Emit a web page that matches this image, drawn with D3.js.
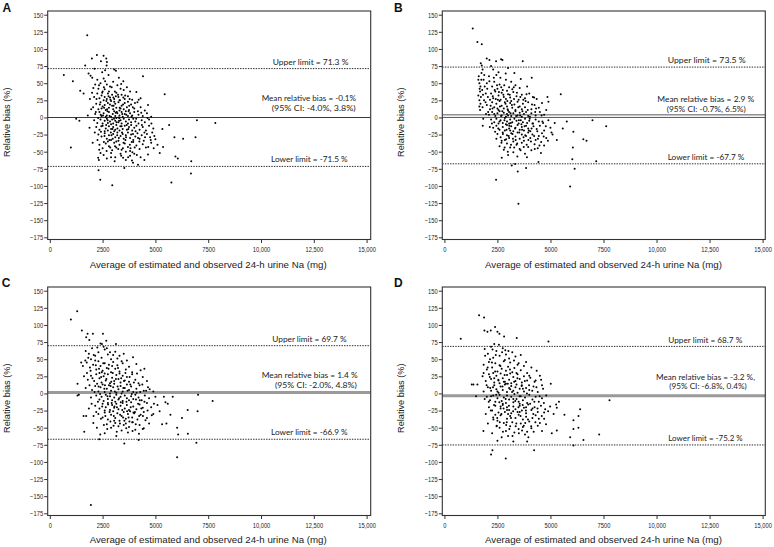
<!DOCTYPE html>
<html><head><meta charset="utf-8">
<script src="https://cdn.jsdelivr.net/npm/d3@7"></script>
<style>body{margin:0;background:#fff}svg{display:block}</style>
</head><body><svg id="c" width="774" height="547"></svg>
<script>
const xTicks=[0,2500,5000,7500,10000,12500,15000];
const xTickLabels=["0","2500","5000","7500","10,000","12,500","15,000"];
const yTicks=[150,125,100,75,50,25,0,-25,-50,-75,-100,-125,-150,-175];
const panelLetters=["A","B","C","D"];
const meanBias=[-0.1,2.9,1.4,-3.2];
const upperLimit=[71.3,73.5,69.7,68.7];
const lowerLimit=[-71.5,-67.7,-66.9,-75.2];
const meanTexts=["Mean relative bias  = -0.1%","Mean relative bias  = 2.9 %","Mean relative bias = 1.4 %","Mean relative bias = -3.2 %,"];
const ciTexts=["(95% CI: -4.0%, 3.8%)","(95% CI: -0.7%,  6.5%)","(95% CI: -2.0%, 4.8%)","(95% CI: -6.8%, 0.4%)"];
const xTitle="Average of estimated and observed 24-h urine Na (mg)";
const yTitle="Relative bias (%)";

const pointsA=[[1772,120],[664,62],[1092,53],[1440,39],[1600,35],[1993,86],[2230,91],[2420,82],[2547,90],[2673,86],[2705,81],[2690,76],[1677,76],[2120,71],[1835,64],[1930,61],[2010,58],[3053,70],[3132,68],[4414,60],[5440,34],[5650,-11],[6968,-4],[7838,-8],[5330,-17],[4950,-27],[5900,-29],[6312,-31],[6900,-29],[997,-44],[2325,-62],[2290,-59],[2310,-77],[2390,-91],[2958,-99],[3528,-74],[3890,-63],[3940,-66],[4176,-69],[4477,-62],[5205,-52],[5363,-43],[5948,-57],[6060,-60],[5758,-95],[6698,-64],[6683,-82],[1250,-2],[1400,-5],
[2250,55],[2400,50],[2550,57],[2700,48],[2850,45],[3000,52],[3200,47],[3350,42],[3500,40],[3650,44],[2300,42],[2600,41],[3800,38],[2150,48],
[2100,30],[2250,35],[2350,28],[2450,32],[2500,38],[2600,30],[2700,27],[2750,35],[2850,29],[2950,33],[3050,27],[3150,36],[3250,30],[3400,33],[3550,27],[3700,31],[3900,26],[4100,37],[4300,28],[2550,25],[2800,38],[3300,25],[1900,27],[2000,36],
[2050,15],[2200,20],[2300,12],[2400,22],[2500,16],[2600,18],[2650,11],[2750,21],[2800,14],[2900,24],[2950,17],[3000,12],[3100,20],[3150,14],[3250,22],[3300,10],[3400,17],[3500,12],[3550,21],[3650,15],[3750,11],[3850,19],[4000,13],[4150,22],[4300,15],[4500,10],[4650,18],[2450,13],[2850,19],[3050,23],[3350,13],[3700,23],
[1800,3],[2150,5],[2350,8],[2450,2],[2550,6],[2700,3],[2800,8],[2900,1],[2980,5],[3050,9],[3100,2],[3200,6],[3300,3],[3400,8],[3450,1],[3550,5],[3600,9],[3700,2],[3800,6],[3900,3],[4000,8],[4200,4],[4400,2],[4600,6],[4800,1],[3250,0],[2650,1],
[2100,-4],[2250,-8],[2400,-3],[2500,-9],[2600,-5],[2700,-2],[2750,-8],[2850,-6],[2950,-3],[3000,-9],[3100,-5],[3150,-1],[3250,-7],[3350,-4],[3400,-9],[3500,-2],[3600,-6],[3700,-9],[3750,-3],[3850,-7],[3950,-2],[4050,-6],[4200,-9],[4350,-4],[4500,-7],[4700,-3],[2900,-10],[3300,-1],
[2200,-14],[2350,-18],[2500,-12],[2650,-16],[2750,-19],[2800,-13],[2900,-17],[3000,-14],[3050,-20],[3150,-11],[3200,-16],[3300,-19],[3400,-13],[3450,-17],[3550,-12],[3650,-18],[3750,-14],[3850,-11],[3900,-19],[4000,-15],[4100,-12],[4250,-18],[4400,-14],[4550,-19],[4700,-12],[4900,-16],[2600,-20],[3100,-18],
[2300,-25],[2450,-28],[2600,-23],[2700,-31],[2800,-26],[2900,-33],[3000,-24],[3100,-29],[3200,-22],[3250,-34],[3350,-27],[3450,-24],[3500,-31],[3600,-26],[3700,-22],[3800,-30],[3850,-25],[3950,-33],[4050,-28],[4150,-23],[4250,-31],[4350,-26],[4450,-34],[4600,-24],[4750,-29],[4850,-22],[5000,-32],[2750,-35],[3150,-35],
[2350,-40],[2500,-45],[2650,-38],[2800,-42],[2950,-48],[3050,-37],[3150,-44],[3300,-40],[3400,-47],[3550,-38],[3700,-43],[3800,-49],[3950,-36],[4100,-41],[4250,-46],[4400,-39],[4550,-44],[4800,-37],[5100,-40],[3600,-50],
[2550,-55],[2700,-60],[2900,-52],[3100,-58],[3350,-53],[3600,-62],[3800,-56],[4000,-53],[4300,-58],[4650,-54],[2400,-52],
[2330,47],[2480,36],[2620,53],[2780,31],[2930,44],[3080,38],[3230,33],[3380,49],[3480,29],[2210,27],[2570,14],[2730,9],[2870,26],[3020,17],[3170,8],[3320,25],[3470,19],[3620,4],[3780,27],[3930,15],[2290,-1],[2440,-13],[2590,-27],[2740,-4],[2890,-22],[3040,-2],[3190,-26],[3340,-13],[3490,-37],[3640,-11],[3790,-40],[3940,-24],[4090,-2],[4240,-35],[2370,19],[2520,3],[2670,-11],[2820,-33],[2970,-17],[3120,7],[3270,-30],[3420,-22],[3570,32],[3720,-17],[3870,1],[4020,-44],[4170,9],[2260,-33],[2410,4],[2560,-36],[2710,12],[2860,-44],[3010,29],[3160,-7],[3310,14],[3460,-45],[3610,-29],[3760,17],[3910,-51],[4060,-20],[4210,26],[4360,-11],[4510,-29],[4660,-43],[4810,-9],[2180,8],[2130,-22],[2060,43],[1960,12],[1880,-15],[2030,-37],[2480,66],[2620,69],[2780,62],[3270,58],[3480,53],[2340,-47],[2690,-49],[3240,-46],[3710,-58],[3070,-64],[3470,-59],[2920,-26],[3090,-42],[2680,24],[2830,2],[2980,-31],[3130,31],[3280,-5],[3430,5],[3580,-33],[3730,9],[3880,-36],[4030,21],[4180,-30],[4330,7],[4480,-22],[4630,-1],[4780,-33],[4920,-45],[2420,-21],[2560,44],[2900,-58],[3380,-56],[3820,-45],[4120,-55]];

const pointsB=[[1336,130],[1556,110],[1760,107],[1713,79],[1760,76],[1996,86],[2122,84],[2436,82],[2672,85],[2735,84],[3694,82],[4118,58],[4857,30],[4905,23],[5486,34],[4229,29],[1807,-12],[1682,11],[1650,16],[5770,-6],[5580,-16],[6080,-21],[6981,-4],[7627,-13],[6550,-32],[6700,-34],[6056,-44],[6030,-61],[7156,-64],[6140,-75],[2436,-91],[3490,-126],[3458,-79],[3851,-74],[3333,-68],[3175,-70],[2704,-59],[4433,-65],[5926,-101],
[1600,55],[1650,50],[1700,45],[1620,60],[1750,65],[1800,70],[1680,38],[1720,30],[1650,25],[1780,40],[1850,55],[1900,45],[1950,35],[1700,20],[1800,15],[1870,25],[1600,32],[2300,70],[2550,66],[2200,75],
[2100,60],[2250,45],[2350,52],[2500,42],[2600,48],[2750,40],[2900,55],[3050,44],[3200,41],[3350,47],[3550,43],[2450,62],[2000,50],[3900,45],
[2050,30],[2200,35],[2300,28],[2400,38],[2550,32],[2650,26],[2700,36],[2800,30],[2900,27],[3000,34],[3100,29],[3250,37],[3400,31],[3500,26],[3650,33],[3800,28],[4000,35],[4350,27],[2150,26],[2950,39],
[2000,18],[2150,12],[2250,22],[2350,15],[2450,20],[2550,11],[2600,24],[2700,17],[2800,13],[2850,22],[2950,16],[3000,10],[3100,21],[3200,14],[3300,19],[3350,11],[3450,23],[3550,16],[3650,12],[3700,20],[3800,15],[3950,22],[4100,12],[4250,18],[4450,14],[4600,21],[4800,11],[2500,13],[3150,24],
[2100,4],[2250,8],[2400,2],[2500,6],[2600,9],[2700,3],[2800,7],[2900,1],[2950,5],[3050,8],[3150,2],[3250,6],[3350,9],[3450,3],[3550,7],[3650,1],[3750,5],[3850,8],[3950,2],[4100,6],[4300,3],[4500,8],[4700,4],[2350,5],[3000,3],
[2200,-3],[2350,-7],[2450,-2],[2550,-9],[2650,-4],[2750,-8],[2850,-1],[2950,-6],[3050,-9],[3100,-3],[3200,-7],[3300,-2],[3400,-5],[3500,-9],[3600,-4],[3700,-7],[3800,-2],[3900,-8],[4000,-5],[4150,-9],[4300,-3],[4450,-6],[4650,-8],[4900,-4],[2900,-10],
[2300,-15],[2450,-12],[2600,-18],[2750,-14],[2850,-19],[2950,-11],[3050,-16],[3150,-13],[3250,-20],[3350,-15],[3450,-11],[3550,-18],[3650,-14],[3750,-19],[3850,-12],[3950,-16],[4050,-20],[4200,-13],[4350,-17],[4500,-12],[4700,-19],[5000,-15],[3100,-19],
[2500,-24],[2650,-29],[2750,-22],[2850,-33],[2950,-26],[3050,-30],[3150,-23],[3250,-35],[3350,-28],[3450,-22],[3550,-31],[3650,-25],[3750,-34],[3850,-27],[3950,-22],[4050,-30],[4150,-25],[4300,-33],[4450,-27],[4600,-23],[4800,-30],[5100,-25],[5300,-33],[2700,-34],
[2600,-42],[2800,-47],[2950,-38],[3100,-44],[3250,-51],[3400,-40],[3550,-46],[3650,-37],[3800,-53],[3950,-43],[4100,-48],[4250,-39],[4400,-45],[4550,-52],[4700,-41],[3000,-55],
[1660,42],[1740,55],[1820,33],[1880,62],[1940,22],[2020,42],[2120,53],[2180,17],[2280,31],[2330,58],[2420,27],[2480,47],[2570,37],[2620,16],[2680,44],[2730,9],[2780,33],[2830,-4],[2880,20],[2930,-18],[2980,12],[3030,-27],[3080,33],[3130,-8],[3180,18],[3230,-31],[3280,27],[3330,-16],[3380,2],[3430,-38],[3480,15],[3530,-22],[3580,30],[3630,-10],[3680,9],[3730,-29],[3780,-13],[3830,24],[3880,-40],[3930,11],[3980,-19],[4030,1],[4080,-35],[4130,19],[4180,-9],[4230,-27],[4280,8],[4380,-20],[4480,-41],[4580,3],[4680,-28],[4780,-13],[4880,-34],[2240,-9],[2390,-21],[2540,-16],[2690,-37],[2840,-44],[2990,-50],[3140,-40],[3290,-44],[3440,-57],[3590,-48],[3740,-43],[3890,-58],[2270,13],[2370,40],[2520,26],[2670,2],[2820,47],[2970,24],[3120,6],[3270,44],[3420,36],[3570,3],[3720,26],[3870,34],[4020,-2],[4170,30],[4320,13],[4620,-6],[5200,-8],[5050,-22],[2140,-14],[2060,8],[1960,5],[1830,-2],[2890,64],[3000,72],[2640,58],[3150,52],[3300,65],[3600,56],[2760,-24],[2910,-32],[3060,-12],[3210,-24],[3360,-33],[3510,-4],[3660,-18],[3810,-26],[3960,-33],[4110,-16],[4260,-46],[4410,-31],[4560,-36],[2450,-31],[2600,-6]];

const pointsC=[[997,108],[1297,120],[1519,92],[1724,82],[1788,87],[2041,87],[2515,87],[1870,78],[1313,14],[1376,-2],[1313,-3],[1487,45],[1566,40],[2468,72],[2673,77],[3132,72],[3939,53],[4477,36],[5474,-13],[5585,-15],[5822,-5],[7020,-2],[6530,-24],[1598,-33],[1724,-33],[2072,-33],[1630,-56],[2390,-60],[2341,-67],[1946,-163],[3528,-73],[4208,-68],[5315,-45],[5522,-44],[5711,-31],[6260,-36],[6028,-50],[6076,-60],[6028,-93],[6537,-59],[6940,-72],[7710,-11],[6997,-26],
[1700,62],[1850,58],[2000,66],[2150,55],[2300,60],[2450,52],[2600,64],[2750,57],[2900,50],[3100,61],[3300,55],[1950,50],[2550,68],[3500,58],
[1750,45],[1900,38],[2050,42],[2200,35],[2300,47],[2400,40],[2500,33],[2600,44],[2700,37],[2800,42],[2900,31],[3000,46],[3100,36],[3200,41],[3300,32],[3450,44],[3600,35],[3750,39],[3900,31],[4100,43],[4300,34],[2350,30],[2950,40],[2150,48],
[1800,20],[1950,26],[2100,18],[2200,28],[2350,22],[2450,16],[2550,25],[2650,19],[2750,28],[2850,15],[2950,23],[3050,18],[3150,27],[3250,21],[3350,16],[3450,26],[3550,19],[3650,24],[3750,17],[3900,28],[4050,20],[4200,15],[4400,24],[4600,18],[2600,29],[3300,29],
[1700,8],[2000,5],[2150,11],[2300,3],[2400,9],[2500,13],[2600,2],[2700,7],[2800,12],[2900,4],[3000,9],[3050,14],[3150,1],[3250,6],[3350,11],[3450,3],[3550,8],[3650,13],[3750,5],[3850,10],[3950,2],[4100,7],[4250,12],[4450,4],[4650,9],[4900,3],[2850,0],[3400,0],
[1950,-6],[2200,-3],[2350,-9],[2450,-5],[2550,-11],[2650,-2],[2750,-8],[2850,-4],[2950,-10],[3050,-6],[3150,-2],[3250,-9],[3350,-5],[3450,-11],[3550,-3],[3650,-7],[3750,-10],[3850,-4],[3950,-8],[4050,-2],[4200,-6],[4350,-10],[4500,-3],[4700,-7],[5000,-5],[3100,-12],
[2150,-18],[2350,-22],[2500,-15],[2650,-20],[2750,-14],[2850,-24],[2950,-17],[3050,-21],[3150,-15],[3250,-23],[3350,-18],[3450,-14],[3550,-22],[3650,-17],[3750,-24],[3850,-13],[3950,-19],[4100,-23],[4250,-16],[4400,-21],[4600,-14],[4800,-20],[5100,-17],[2600,-25],
[2300,-30],[2500,-35],[2600,-28],[2750,-38],[2900,-31],[3000,-26],[3100,-36],[3200,-29],[3300,-40],[3400,-33],[3500,-27],[3600,-37],[3700,-30],[3800,-26],[3900,-35],[4000,-29],[4150,-38],[4300,-31],[4450,-27],[4600,-36],[4900,-30],[3050,-40],
[2700,-45],[2900,-50],[3100,-43],[3250,-48],[3400,-54],[3600,-44],[3750,-49],[3900,-42],[4050,-53],[4250,-46],[4450,-51],[4700,-44],[3500,-46],
[1620,25],[1680,48],[1760,30],[1820,52],[1880,12],[1930,33],[2020,22],[2080,56],[2120,2],[2180,41],[2240,14],[2280,-12],[2330,36],[2380,-1],[2430,24],[2480,-19],[2530,44],[2580,7],[2630,-33],[2680,21],[2730,-4],[2780,36],[2830,-27],[2880,11],[2930,-14],[2980,30],[3030,-33],[3080,3],[3130,21],[3180,-20],[3230,37],[3280,-7],[3330,-31],[3380,22],[3430,-24],[3480,8],[3530,-40],[3580,30],[3630,-12],[3680,4],[3730,-35],[3780,24],[3830,-20],[3880,-1],[3930,-42],[3980,16],[4030,-27],[4080,-9],[4130,29],[4180,-15],[4230,-33],[4280,2],[4330,-22],[4380,13],[4480,-12],[4530,-39],[4630,-25],[4730,6],[4830,-32],[4930,-15],[2200,-27],[2420,-37],[2560,-46],[2720,-52],[2870,-41],[3020,-47],[3170,-56],[3320,-44],[3470,-35],[3620,-51],[3770,-41],[3920,-55],[4070,-45],[4220,-59],[2250,67],[2400,73],[2700,66],[2850,60],[3000,56],[3200,51],[3400,47],[3650,48],[2310,10],[2460,31],[2610,12],[2760,-16],[2910,17],[3060,-19],[3210,10],[3360,-13],[3510,18],[3660,-26],[3810,13],[3960,-28],[4110,1],[4260,-10],[4410,-33],[4560,4],[1980,-15],[2060,-43],[2230,-50],[1850,-22],[2600,-58],[3150,-62],[3700,-57],[4400,-52],[5200,-26],[5400,-5]];

const pointsD=[[770,80],[1635,114],[1871,111],[1886,92],[2028,90],[2185,92],[2389,97],[2500,90],[2594,87],[2814,83],[3411,81],[4905,76],[3851,46],[4559,20],[5015,14],[1289,13],[1368,13],[1556,13],[1493,-4],[4983,-19],[5266,-16],[5298,-21],[6398,-23],[1839,-55],[2468,-47],[2499,-69],[2201,-89],[2264,-83],[2892,-95],[4229,-83],[5062,-58],[5298,-54],[5659,-31],[5926,-64],[6084,-39],[6084,-52],[6319,-50],[6084,-76],[6555,-68],[7783,-10],[6322,-33],[7297,-60],
[1900,65],[2050,58],[2200,68],[2300,52],[2450,62],[2600,55],[2750,66],[2900,57],[3050,51],[3200,60],[3350,54],[2350,72],[2150,50],[3600,56],
[1850,42],[2000,35],[2100,46],[2250,38],[2400,44],[2500,32],[2600,41],[2700,36],[2800,47],[2900,33],[3000,39],[3100,45],[3200,31],[3300,37],[3450,42],[3600,34],[3750,40],[3900,30],[4100,38],[4350,33],[2300,30],[2850,49],
[1800,25],[1950,18],[2100,28],[2200,21],[2350,16],[2450,26],[2550,19],[2650,29],[2750,22],[2850,17],[2950,27],[3050,20],[3150,15],[3250,24],[3350,18],[3450,28],[3550,21],[3650,16],[3750,25],[3900,19],[4050,23],[4250,17],[4500,26],[2600,15],[3100,29],
[1850,3],[2050,9],[2200,4],[2350,12],[2450,6],[2550,1],[2650,10],[2750,5],[2850,13],[2950,2],[3050,8],[3150,11],[3250,4],[3350,9],[3450,1],[3550,7],[3650,12],[3750,3],[3850,8],[4000,5],[4200,10],[4400,2],[4650,7],[2900,14],[3400,13],
[2000,-5],[2150,-10],[2300,-3],[2400,-12],[2500,-7],[2600,-2],[2700,-11],[2800,-6],[2900,-14],[2950,-3],[3050,-9],[3150,-5],[3250,-13],[3300,-1],[3400,-8],[3500,-12],[3600,-4],[3700,-10],[3800,-6],[3900,-14],[4000,-2],[4150,-9],[4300,-5],[4450,-12],[4600,-7],[4800,-3],[2750,-15],[3550,-15],
[2100,-20],[2250,-25],[2400,-18],[2550,-28],[2650,-22],[2750,-17],[2850,-27],[2950,-20],[3050,-24],[3150,-29],[3250,-19],[3350,-23],[3450,-27],[3550,-18],[3650,-25],[3750,-21],[3850,-29],[3950,-16],[4100,-24],[4250,-20],[4400,-27],[4550,-18],[4750,-23],[3000,-30],
[2300,-35],[2500,-40],[2650,-32],[2800,-43],[2950,-37],[3100,-33],[3200,-42],[3350,-36],[3500,-31],[3600,-44],[3700,-38],[3850,-34],[4000,-41],[4150,-36],[4300,-32],[4500,-43],[4700,-37],[2400,-31],
[2600,-50],[2900,-55],[3100,-48],[3300,-57],[3500,-52],[3700,-49],[3900,-56],[4100,-51],[4400,-47],[3000,-62],[3800,-60],
[1850,30],[1920,55],[1990,12],[2040,38],[2090,-12],[2140,24],[2190,-25],[2240,45],[2290,9],[2340,-17],[2390,32],[2440,-2],[2490,-36],[2540,20],[2590,-13],[2640,40],[2690,-30],[2740,10],[2790,-22],[2840,27],[2890,-8],[2940,-42],[2990,14],[3040,-18],[3090,35],[3140,-36],[3190,2],[3240,-26],[3290,17],[3340,-11],[3390,-44],[3440,22],[3490,-20],[3540,-4],[3590,-33],[3640,11],[3690,-17],[3740,-47],[3790,18],[3840,-25],[3890,0],[3940,-38],[3990,12],[4040,-15],[4090,-48],[4140,4],[4190,-30],[4240,-12],[4290,-42],[4340,9],[4390,-22],[4490,-4],[4590,-33],[4690,-14],[4790,-45],[4890,-26],[2160,8],[2310,-38],[2460,-48],[2610,-42],[2760,-56],[2910,-46],[3060,-52],[3210,-62],[3360,-48],[3510,-58],[3660,-54],[3810,-43],[3960,-64],[4210,-56],[2270,64],[2420,56],[2570,71],[2720,60],[2870,63],[3020,62],[3280,48],[3500,44],[2200,-4],[2350,22],[2500,3],[2650,-19],[2800,17],[2950,-24],[3100,6],[3250,-8],[3400,30],[3550,-27],[3700,7],[3850,-20],[4000,26],[4150,-22],[4300,19],[4450,-37],[4600,12],[4700,-28],[1950,-30],[2050,-44],[1900,-8],[2250,-58],[2700,-64],[3250,-70],[3900,-70],[4600,-55],[5150,-30],[5400,-12]];

const allPoints=[pointsA,pointsB,pointsC,pointsD];

// layout (positions only)
const layout=[
 {box:[47.7,11,370.7,239.5],xr:[49.8,366.6],yr:[237.3,14.7],lx:2.5,ly:12,ytx:9.5,xtY:267.8,
  ann:{up:[272.7,75.7],mean:[261.7,94.3,101],ci:[271.7,84,111],low:[271,76.7]}},
 {box:[442.3,11,765.3,239.5],xr:[444.4,762.6],yr:[237.3,14.7],lx:394,ly:12,ytx:404,xtY:267.8,
  ann:{up:[667.7,78],mean:[657.3,97,101.7],ci:[666.7,79,111.7],low:[667.7,76.7]}},
 {box:[47.7,287,370.7,515.5],xr:[49.8,366.6],yr:[513.3,290.7],lx:1.7,ly:287,ytx:9.5,xtY:543.3,
  ann:{up:[272.3,74.3],mean:[261.7,96,378],ci:[275,81.7,387.7],low:[271,76.7]}},
 {box:[442.3,287,765.3,515.5],xr:[444.4,762.6],yr:[513.3,290.7],lx:394,ly:287,ytx:404,xtY:543.3,
  ann:{up:[668.3,74],mean:[656,99,380.3],ci:[669.3,77.4,389.3],low:[668.3,74.4]}}
];

const svg=d3.select("#c");
const TF="'Liberation Sans',Arial,Helvetica,sans-serif";
const AF="Lato,'Open Sans',sans-serif";
const SX=0.85;

layout.forEach((L,i)=>{
  const g=svg.append("g");
  const x=d3.scaleLinear().domain([0,15000]).range(L.xr);
  const y=d3.scaleLinear().domain([-175,150]).range(L.yr);
  const [bl,bt,br,bb]=L.box;
  const bw=br-bl;

  if(i===0){
    g.append("line").attr("x1",bl).attr("x2",br).attr("y1",y(meanBias[i])).attr("y2",y(meanBias[i])).attr("stroke","#222").attr("stroke-width",0.9);
  } else if(i===1){
    g.append("line").attr("x1",bl).attr("x2",br).attr("y1",y(0)).attr("y2",y(0)).attr("stroke","#444").attr("stroke-width",0.9);
    g.append("line").attr("x1",bl).attr("x2",br).attr("y1",y(meanBias[i])-0.6).attr("y2",y(meanBias[i])-0.6).attr("stroke","#444").attr("stroke-width",0.9);
  } else {
    g.append("line").attr("x1",bl).attr("x2",br).attr("y1",y(meanBias[i])).attr("y2",y(meanBias[i])).attr("stroke","#9a9a9a").attr("stroke-width",3);
  }
  [upperLimit[i],lowerLimit[i]].forEach(v=>{
    g.append("line").attr("x1",bl).attr("x2",br).attr("y1",y(v)).attr("y2",y(v))
     .attr("stroke","#111").attr("stroke-width",0.9).attr("stroke-dasharray","1.4,1.2");
  });

  g.append("g").selectAll("circle").data(allPoints[i]).join("circle")
   .attr("cx",d=>x(d[0])).attr("cy",d=>y(d[1])).attr("r",1.0).attr("fill","#000");

  g.append("rect").attr("x",bl).attr("y",bt).attr("width",bw).attr("height",bb-bt)
   .attr("fill","none").attr("stroke","#333").attr("stroke-width",1.1);

  const xa=g.append("g").attr("transform",`translate(0,${bb})`)
   .call(d3.axisBottom(x).tickValues(xTicks).tickFormat((d,k)=>xTickLabels[k]).tickSize(3.5));
  xa.select(".domain").remove();
  xa.selectAll("line").attr("stroke","#333");
  xa.selectAll("text").attr("y",0).attr("dy",0).attr("transform",`translate(0,12.5) scale(${SX},1)`)
   .attr("font-family",TF).attr("font-size",6.8).attr("fill","#222");

  const ya=g.append("g").attr("transform",`translate(${bl},0)`)
   .call(d3.axisLeft(y).tickValues(yTicks).tickSize(3.5));
  ya.select(".domain").remove();
  ya.selectAll("line").attr("stroke","#333");
  ya.selectAll("text").attr("x",-4.6/SX).attr("dy","0.35em").attr("transform",`scale(${SX},1)`)
   .attr("font-family",TF).attr("font-size",6.8).attr("fill","#222");

  g.append("text").attr("x",(L.xr[0]+L.xr[1])/2).attr("y",L.xtY).attr("text-anchor","middle")
   .attr("font-family",TF).attr("font-size",9.3).attr("fill","#222")
   .attr("textLength",237).attr("lengthAdjust","spacingAndGlyphs").text(xTitle);
  g.append("text").attr("transform",`translate(${L.ytx},${(bt+bb)/2-3}) rotate(-90)`)
   .attr("text-anchor","middle").attr("font-family",TF).attr("font-size",9.2).attr("fill","#222").text(yTitle);
  g.append("text").attr("x",L.lx).attr("y",L.ly).attr("font-family",TF).attr("font-weight","bold")
   .attr("font-size",12).attr("fill","#111").text(panelLetters[i]);

  const A=L.ann;
  const ann=(xx,yy,w,t)=>g.append("text").attr("x",xx).attr("y",yy).attr("font-family",AF)
    .attr("font-size",8).attr("fill","#222").attr("textLength",w).attr("lengthAdjust","spacingAndGlyphs").text(t);
  ann(A.up[0],y(upperLimit[i])-3.6,A.up[1],`Upper limit = ${upperLimit[i]} %`);
  ann(A.mean[0],A.mean[2],A.mean[1],meanTexts[i]);
  ann(A.ci[0],A.ci[2],A.ci[1],ciTexts[i]);
  ann(A.low[0],y(lowerLimit[i])-4.3,A.low[1],`Lower limit = ${lowerLimit[i]} %`);
});
</script></body></html>
